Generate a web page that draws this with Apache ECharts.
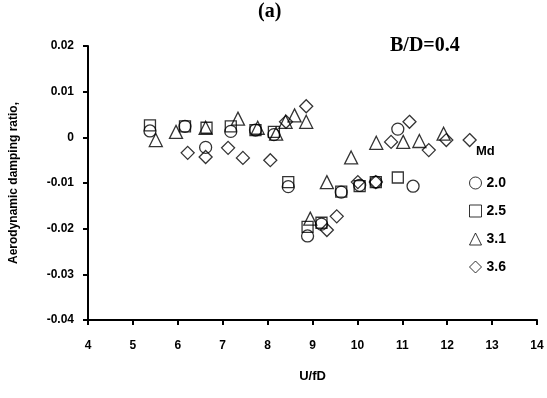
<!DOCTYPE html>
<html>
<head>
<meta charset="utf-8">
<script src="https://cdn.jsdelivr.net/npm/echarts@6/dist/echarts.min.js"></script>
<style>
  html, body { margin: 0; padding: 0; background: #fff; }
  #chart { width: 547px; height: 398px; }
</style>
</head>
<body>
<div id="chart"></div>
<script>
// U/fD and damping ratio, one pair of arrays per Md
const md20X = [5.38, 6.16, 6.62, 7.18, 7.73, 8.14, 8.46, 8.89, 9.20, 9.64, 10.05, 10.41, 10.90, 11.24];
const md20Y = [0.0014, 0.0024, -0.0022, 0.0013, 0.0016, 0.0006, -0.0108, -0.0216, -0.0190, -0.0120, -0.0105, -0.0098, 0.0018, -0.0107];

const md25X = [5.38, 6.16, 6.64, 7.18, 7.73, 8.14, 8.46, 8.89, 9.20, 9.64, 10.05, 10.41, 10.90];
const md25Y = [0.0026, 0.0024, 0.0021, 0.0024, 0.0016, 0.0012, -0.0098, -0.0196, -0.0187, -0.0119, -0.0107, -0.0098, -0.0088];

const md31X = [5.51, 5.96, 6.62, 7.34, 7.78, 8.19, 8.40, 8.60, 8.86, 8.95, 9.32, 9.86, 10.42, 11.02, 11.38, 11.92];
const md31Y = [-0.0006, 0.0012, 0.0021, 0.0041, 0.0021, 0.0008, 0.0034, 0.0048, 0.0034, -0.0178, -0.0098, -0.0044, -0.0012, -0.0010, -0.0008, 0.0008];

const md36X = [6.22, 6.62, 7.12, 7.45, 8.06, 8.41, 8.86, 9.32, 9.54, 10.01, 10.41, 10.75, 11.16, 11.59, 11.98, 12.50];
const md36Y = [-0.0034, -0.0043, -0.0023, -0.0045, -0.0050, 0.0034, 0.0068, -0.0203, -0.0173, -0.0098, -0.0098, -0.0010, 0.0034, -0.0028, -0.0006, -0.0006];

const seriesNames = ['2.0', '2.5', '3.1', '3.6'];
const symbols = ['circle', 'rect', 'triangle', 'diamond'];
const symbolSizes = [12, 11, 13, 13];

const pairs = (xs, ys) => xs.map((x, i) => [x, ys[i]]);
const allData = [pairs(md20X, md20Y), pairs(md25X, md25Y), pairs(md31X, md31Y), pairs(md36X, md36Y)];

const chart = echarts.init(document.getElementById('chart'));
const sans = 'Liberation Sans, Arial, sans-serif';
const serif = 'Liberation Serif, Times New Roman, serif';
const bold = { fontFamily: sans, fontWeight: 'bold', color: '#000' };

chart.setOption({
  animation: false,
  backgroundColor: '#fff',
  grid: { left: 86, right: 10, top: 46, bottom: 78 },
  graphic: [
    { type: 'text', left: 258, top: 2, style: { text: '(a)', fontFamily: serif, fontWeight: 'bold', fontSize: 20, fill: '#000' } },
    { type: 'text', left: 390, top: 36, style: { text: 'B/D=0.4', fontFamily: serif, fontWeight: 'bold', fontSize: 20, fill: '#000' } },
    { type: 'text', left: 476, top: 145, style: { text: 'Md', fontFamily: sans, fontWeight: 'bold', fontSize: 13, fill: '#000' } }
  ],
  legend: {
    orient: 'vertical',
    left: 464,
    top: 171,
    itemGap: 14,
    itemWidth: 12,
    itemHeight: 12,
    data: seriesNames,
    itemStyle: { color: 'rgba(0,0,0,0)', borderColor: '#000', borderWidth: 1 },
    textStyle: Object.assign({ fontSize: 14 }, bold)
  },
  xAxis: {
    type: 'value',
    min: 4, max: 14, interval: 1,
    name: 'U/fD',
    nameLocation: 'middle',
    nameGap: 50,
    nameTextStyle: Object.assign({ fontSize: 13 }, bold),
    axisLine: { onZero: false, lineStyle: { color: '#000', width: 2 } },
    axisTick: { length: 5, lineStyle: { color: '#000', width: 2 } },
    axisLabel: Object.assign({ fontSize: 12, margin: 20 }, bold),
    splitLine: { show: false }
  },
  yAxis: {
    type: 'value',
    min: -0.04, max: 0.02, interval: 0.01,
    name: 'Aerodynamic damping ratio,',
    nameLocation: 'middle',
    nameGap: 68,
    nameTextStyle: Object.assign({ fontSize: 12 }, bold),
    axisLine: { show: true, lineStyle: { color: '#000', width: 2 } },
    axisTick: { show: true, length: 5, lineStyle: { color: '#000', width: 2 } },
    axisLabel: Object.assign({
      fontSize: 12, margin: 14,
      formatter: v => (Math.abs(v) < 1e-9 ? '0' : v.toFixed(2))
    }, bold),
    splitLine: { show: false }
  },
  series: allData.map((d, i) => ({
    name: seriesNames[i],
    type: 'scatter',
    symbol: symbols[i],
    symbolSize: symbolSizes[i],
    itemStyle: { color: 'rgba(0,0,0,0)', borderColor: '#000', borderWidth: 1.3 },
    data: d
  }))
});
</script>
</body>
</html>
